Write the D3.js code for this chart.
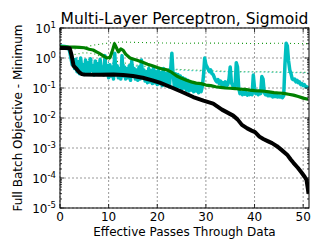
<!DOCTYPE html>
<html><head><meta charset="utf-8">
<script src="https://cdn.jsdelivr.net/npm/d3@7"></script>
<style>body{margin:0;background:#fff}svg{display:block;font-family:"DejaVu Sans",sans-serif}</style>
</head><body>
<svg id="c" width="324" height="252"></svg>
<script>
const title = "Multi-Layer Perceptron, Sigmoid";
const xLabel = "Effective Passes Through Data";
const yLabel = "Full Batch Objective - Minimum";
const xTicks = [0, 10, 20, 30, 40, 50];
const yTickExps = [1, 0, -1, -2, -3, -4, -5];

const blackSeries = [[0,2.15],[1,2.15],[2.0,2.1],[2.4,1.2],[2.8,0.55],[3.3,0.45],[4.0,0.33],[4.5,0.29],[5,0.28],[8,0.275],[11,0.28],[13,0.27],[15,0.25],[17,0.22],[19,0.18],[20.5,0.15],[22.6,0.11],[25,0.075],[27.4,0.05],[29.5,0.038],[31.5,0.03],[33.3,0.019],[35.6,0.012],[36.5,0.009],[37.4,0.0059],[38.5,0.0045],[39.4,0.0038],[40.1,0.0034],[41.0,0.0024],[41.8,0.0020],[42.7,0.0017],[43.6,0.00145],[44.6,0.00115],[45.6,0.00085],[46.7,0.0006],[47.4,0.00042],[48,0.00032],[48.9,0.00022],[49.7,0.00015],[50.3,0.00011],[50.7,0.000085],[51.0,0.00004],[51.1,0.00003]];

const greenSeries = [[0,2.4],[1,2.35],[2,2.3],[3,2.3],[4,2.25],[5,2.2],[6,1.95],[6.8,1.85],[7.5,1.6],[8,1.45],[9,1.15],[9.6,1.0],[10.3,1.05],[10.7,1.6],[11.2,3.0],[11.6,2.2],[12,1.6],[12.5,2.0],[13,1.8],[13.5,1.35],[14.4,1.0],[15,0.92],[16,0.82],[17,0.72],[18,0.62],[19,0.55],[20,0.48],[21,0.43],[22,0.4],[23,0.33],[24,0.25],[25,0.21],[26,0.18],[27,0.16],[28,0.145],[29,0.14],[30,0.125],[31,0.12],[32,0.11],[33,0.105],[34,0.1],[35,0.098],[36,0.096],[37,0.092],[38,0.09],[39,0.085],[40,0.082],[41,0.08],[42,0.078],[43,0.074],[44,0.07],[45,0.068],[46,0.066],[47,0.062],[48,0.058],[49,0.052],[50,0.046],[51,0.042]];

const cyanSeries = [[0,2.5],[0.5,2.45],[1,2.4],[1.5,2.35],[1.75,2.2],[2,1.6],[2.25,1.0],[2.5,0.6],[2.75,0.9],[3,0.45],
[3.25,0.9],[3.5,0.35],[3.75,0.75],[4,0.3],[4.25,1.0],[4.5,0.4],[4.75,0.6],[5,0.28],[5.25,0.85],[5.5,0.33],[5.75,0.7],[6,0.3],[6.25,0.95],[6.5,0.38],[6.75,0.55],[7,0.27],[7.25,0.8],[7.5,0.32],[7.75,0.65],[8,0.3],[8.25,0.9],[8.5,0.35],[8.75,0.5],[9,0.27],
[9.25,1.2],[9.5,0.3],[9.75,0.55],[10,0.22],[10.25,0.6],[10.5,0.25],[10.75,0.5],[11,0.2],[11.25,1.45],[11.5,0.3],[11.75,0.55],[12,0.22],[12.25,0.45],[12.5,0.2],[12.75,1.2],[13,0.25],
[13.25,0.5],[13.5,0.2],[13.75,0.45],[14,0.22],[14.25,0.55],[14.5,0.18],[14.75,0.8],[15,0.25],[15.25,0.45],[15.5,0.2],[15.75,0.4],[16,0.18],[16.25,0.5],[16.5,0.2],[16.75,0.85],[17,0.22],
[17.25,0.4],[17.5,0.17],[17.75,0.35],[18,0.15],[18.25,0.45],[18.5,0.16],[18.75,0.38],[19,0.14],[19.25,0.5],[19.5,0.15],[19.75,0.35],[20,0.13],[20.25,0.4],[20.5,0.14],[20.75,0.32],[21,0.12],[21.25,0.45],[21.5,0.13],[21.75,0.3],[22,0.12],[22.25,0.35],[22.5,0.11],
[22.75,0.4],[23,1.45],[23.25,0.3],[23.5,0.12],[23.75,0.3],[24,0.1],[24.25,0.28],[24.5,0.11],[24.75,0.25],[25,0.09],[25.25,0.22],[25.5,0.1],[25.75,0.2],[26,0.085],
[26.25,0.18],[26.5,0.08],[26.75,0.16],[27,0.085],[27.25,0.15],[27.5,0.075],[27.75,0.14],[28,0.08],[28.25,0.13],[28.5,0.07],[28.75,0.12],[29,0.075],[29.25,0.11],[29.5,0.25],[29.75,1.0],[30,0.6],[30.25,0.5],
[30.5,0.42],[30.75,0.35],[31,0.4],[31.25,0.3],[31.5,0.28],[31.75,0.22],[32,0.18],[32.25,0.16],[32.5,0.19],[32.75,0.14],[33,0.17],[33.25,0.13],[33.5,0.15],[33.75,0.12],[34,0.16],[34.25,0.12],[34.5,0.13],[34.75,0.2],[35,0.5],[35.25,0.15],[35.5,0.12],[35.75,0.13],[36,0.11],
[36.25,0.7],[36.5,0.5],[36.75,0.1],[37,0.065],[37.25,0.07],[37.5,0.06],[37.75,0.075],[38,0.062],[38.25,0.07],[38.5,0.058],[38.75,0.068],[39,0.06],[39.25,0.07],[39.5,0.06],[39.75,0.27],[40,0.1],[40.25,0.065],[40.5,0.07],[40.75,0.06],[41,0.075],[41.25,0.065],[41.5,0.24],[41.75,0.2],[42,0.07],[42.25,0.06],[42.5,0.068],[42.75,0.055],[43,0.065],[43.25,0.055],[43.5,0.06],[43.75,0.05],[44,0.06],[44.25,0.052],[44.5,0.058],[44.75,0.05],[45,0.055],[45.25,0.05],[45.5,0.052],[45.75,0.048],[46,0.055],[46.25,0.6],[46.5,3.1],[46.75,2.5],[47,0.8],[47.25,0.4],[47.5,0.3],[47.75,0.2],[48,0.19],[48.25,0.2],[48.5,0.16],[48.75,0.18],[49,0.15],[49.25,0.16],[49.5,0.13],[49.75,0.14],[50,0.12],[50.25,0.13],[50.5,0.11],[50.75,0.11],[51,0.1]];

const greenDottedTop = [[3,2.0],[5,2.3],[7,2.7],[9,3.0],[11,3.3],[13,3.4],[16,3.3],[20,3.2],[25,3.1],[30,3.15],[35,3.1],[40,3.05],[45,3.1],[51,3.0]];
const greenDottedLow = [[3,1.3],[5,1.5],[7,1.4],[9,1.0],[12,0.75],[15,0.6],[18,0.52],[21,0.47],[24,0.42],[27,0.4],[30,0.38],[34,0.36],[38,0.35],[42,0.35],[46,0.34],[51,0.33]];
const cyanDotted = [[3,1.1],[5,0.9],[7,0.85],[9,0.75],[12,0.62],[15,0.55],[18,0.5],[21,0.45],[24,0.4],[27,0.38],[30,0.36],[34,0.35],[38,0.34],[42,0.34],[46,0.33],[51,0.32]];

const svg = d3.select("#c");
const L = 60, R = 309, T = 28, B = 208;
const x = d3.scaleLinear().domain([0, 51.2]).range([L, R]);
const y = d3.scaleLog().domain([1e-5, 10]).range([B, T]);

svg.append("defs").append("clipPath").attr("id","clip").append("rect")
  .attr("x",L).attr("y",T).attr("width",R-L).attr("height",B-T);

// grid
const grid = svg.append("g").attr("stroke","#555").attr("stroke-width",0.6).attr("stroke-dasharray","2,2");
xTicks.forEach(t => grid.append("line").attr("x1",x(t)).attr("x2",x(t)).attr("y1",T).attr("y2",B));
yTickExps.forEach(e => grid.append("line").attr("x1",L).attr("x2",R).attr("y1",y(Math.pow(10,e))).attr("y2",y(Math.pow(10,e))));

const line = d3.line().x(d => x(d[0])).y(d => y(d[1]));
const plot = svg.append("g").attr("clip-path","url(#clip)").attr("fill","none").attr("stroke-linejoin","round");
plot.append("path").datum(greenDottedTop).attr("d",line).attr("stroke","#1a9a1a").attr("stroke-width",1.1).attr("stroke-dasharray","1,3");
plot.append("path").datum(greenDottedLow).attr("d",line).attr("stroke","#1a9a1a").attr("stroke-width",1.1).attr("stroke-dasharray","1,3");
plot.append("path").datum(cyanDotted).attr("d",line).attr("stroke","#00bfbf").attr("stroke-width",1.1).attr("stroke-dasharray","1,3").attr("stroke-dashoffset",2);
plot.append("path").datum(cyanSeries).attr("d",line).attr("stroke","#00bfbf").attr("stroke-width",3.5);
plot.append("path").datum(greenSeries).attr("d",line).attr("stroke","#008000").attr("stroke-width",3.2);
plot.append("path").datum(blackSeries).attr("d",line).attr("stroke","#000").attr("stroke-width",4);

// axes box
svg.append("rect").attr("x",L).attr("y",T).attr("width",R-L).attr("height",B-T).attr("fill","none").attr("stroke","#000").attr("stroke-width",1);

// ticks
const tk = svg.append("g").attr("stroke","#000").attr("stroke-width",0.8);
xTicks.forEach(t => {
  tk.append("line").attr("x1",x(t)).attr("x2",x(t)).attr("y1",B).attr("y2",B-4);
  tk.append("line").attr("x1",x(t)).attr("x2",x(t)).attr("y1",T).attr("y2",T+4);
});
for (let e = -5; e <= 1; e++) {
  const v = Math.pow(10,e);
  tk.append("line").attr("x1",L).attr("x2",L+4).attr("y1",y(v)).attr("y2",y(v));
  tk.append("line").attr("x1",R).attr("x2",R-4).attr("y1",y(v)).attr("y2",y(v));
  if (e < 1) for (let m = 2; m <= 9; m++) {
    const yy = y(m*v);
    tk.append("line").attr("x1",L).attr("x2",L+2).attr("y1",yy).attr("y2",yy);
    tk.append("line").attr("x1",R).attr("x2",R-2).attr("y1",yy).attr("y2",yy);
  }
}

// tick labels
xTicks.forEach(t => svg.append("text").attr("x",x(t)).attr("y",221).attr("text-anchor","middle").attr("font-size",12).text(t));
yTickExps.forEach(e => {
  const tx = svg.append("text").attr("x",56).attr("y",y(Math.pow(10,e))+4.5).attr("text-anchor","end").attr("font-size",12);
  tx.append("tspan").text("10");
  tx.append("tspan").attr("dy",-5).attr("font-size",8.5).text(e);
});

svg.append("text").attr("x",(L+R)/2).attr("y",24).attr("text-anchor","middle").attr("font-size",15.5).text(title);
svg.append("text").attr("x",(L+R)/2).attr("y",236).attr("text-anchor","middle").attr("font-size",12).text(xLabel);
svg.append("text").attr("transform",`translate(22,${(T+B)/2}) rotate(-90)`).attr("text-anchor","middle").attr("font-size",12).text(yLabel);
</script>
</body></html>
